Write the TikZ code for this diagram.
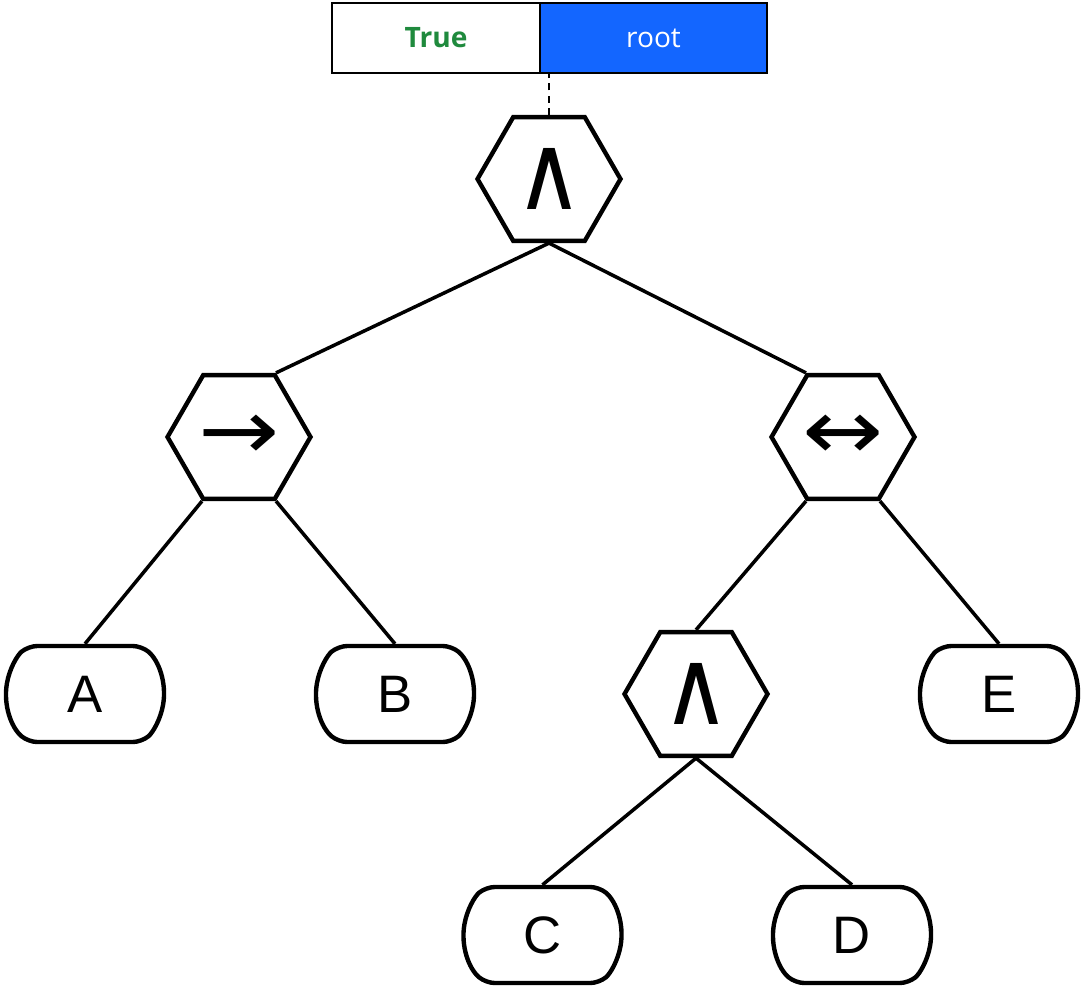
\documentclass[tikz,border=0pt]{standalone}
\usepackage{fontspec}
\setmainfont{Open Sans}
\newfontfamily\symfont{DejaVu Sans}
\newfontfamily\leaffont{Liberation Sans}
\usetikzlibrary{positioning}
\usetikzlibrary{shapes.geometric,shapes.misc}
\definecolor{rootblue}{RGB}{19,102,255}
\definecolor{truegreen}{RGB}{31,138,61}

\tikzset{
  opnode/.style={regular polygon, regular polygon sides=6, draw, line width=2.5pt,
    minimum size=2.86cm, inner sep=0pt, font=\symfont\fontsize{48}{54}\selectfont},
  leafnode/.style={rounded rectangle, rounded rectangle arc length=100, draw,
    rounded corners=5pt, line width=2.5pt, minimum width=3.16cm, minimum height=1.92cm,
    inner sep=0pt, font=\leaffont\fontsize{30}{36}\selectfont},
  tagbox/.style={draw, line width=1pt, minimum height=1.4cm,
    inner sep=0pt, font=\fontsize{16}{19}\selectfont},
  branch/.style={line width=2pt},
}

\begin{document}
\begin{tikzpicture}
			\useasboundingbox (0,0) rectangle (21.72,-19.98);
			% Tag
			\node[tagbox, minimum width=4.16cm, fill=white, text=truegreen, font=\fontsize{16}{19}\selectfont\bfseries] (val) at (8.72,-0.76) {True};
			\node[tagbox, minimum width=4.54cm, fill=rootblue, text=white] (name) at (13.07,-0.76) {root};
			% Operators
			\node[opnode] (root) at (10.98,-3.58) {\scalebox{1.1}[1.25]{∧}};
			\node[opnode] (imp) at (4.78,-8.74) {\scalebox{1.15}[1]{→}};
			\node[opnode] (iff) at (16.86,-8.74) {\scalebox{1.15}[1]{↔}};
			\node[opnode] (and) at (13.92,-13.88) {\scalebox{1.1}[1.25]{∧}};
			% Atoms
			\node[leafnode] (a) at (1.70,-13.88) {A};
			\node[leafnode] (b) at (7.90,-13.88) {B};
			\node[leafnode] (e) at (19.98,-13.88) {E};
			\node[leafnode] (c) at (10.85,-18.70) {C};
			\node[leafnode] (d) at (17.04,-18.70) {D};
			% Edges
			\draw[dashed, line width=1.4pt, dash pattern=on 4pt off 3pt] (root.north) -- (root.north |- val.south);
			\draw[branch] (root.south) -- (imp.corner 1);
			\draw[branch] (root.south) -- (iff.corner 2);
			\draw[branch] (imp.corner 4) -- (a.north);
			\draw[branch] (imp.corner 5) -- (b.north);
			\draw[branch] (iff.corner 4) -- (and.north);
			\draw[branch] (iff.corner 5) -- (e.north);
			\draw[branch] (and.south) -- (c.north);
			\draw[branch] (and.south) -- (d.north);
		\end{tikzpicture}
\end{document}
